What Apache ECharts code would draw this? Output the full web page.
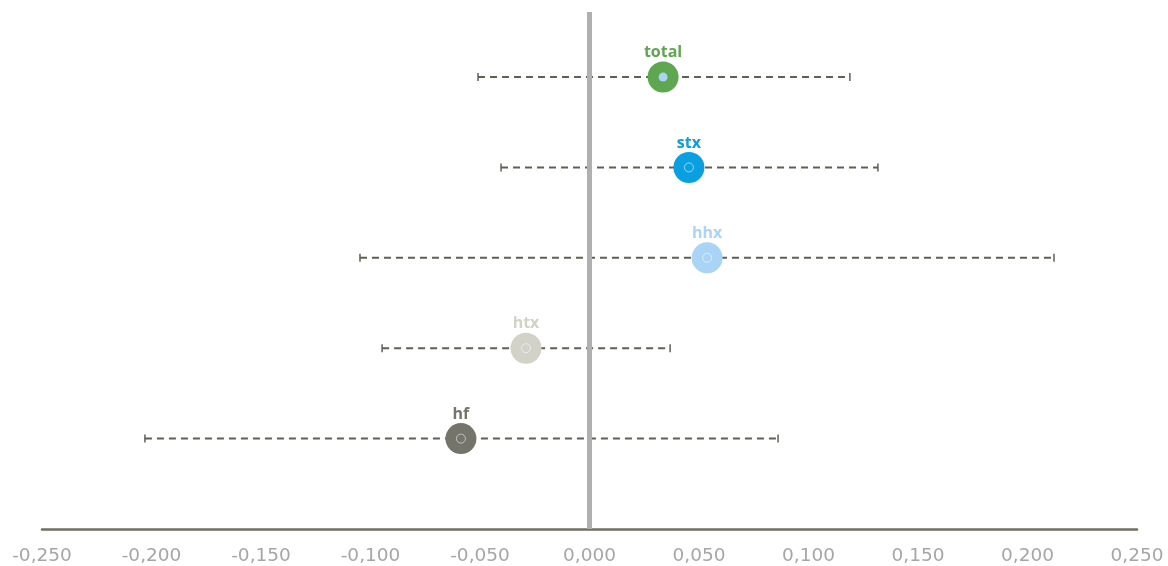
<!DOCTYPE html>
<html>
<head>
<meta charset="utf-8">
<script src="https://cdn.jsdelivr.net/npm/echarts@6/dist/echarts.min.js"></script>
<style>html,body{margin:0;padding:0;background:#fff}#c{width:1168px;height:566px}</style>
</head>
<body>
<div id="c"></div>
<script>
const categories = ['total', 'stx', 'hhx', 'htx', 'hf'];
const estimates = [0.0336, 0.0454, 0.0537, -0.0290, -0.0587];
const lower = [-0.0509, -0.0404, -0.1048, -0.0947, -0.2030];
const upper = [0.1189, 0.1317, 0.2121, 0.0368, 0.0861];
const colors = ['#5ea64f', '#0a9fe0', '#a9d4f5', '#d2d2c8', '#74746a'];
const innerFill = ['#a9d4f5', null, null, null, null];
const xTicks = { min: -0.25, max: 0.25, interval: 0.05 };

const n = categories.length;
const rowY = i => n - i;

const chart = echarts.init(document.getElementById('c'), null, { renderer: 'canvas' });

const fmt = v => {
  let s = Math.abs(v) < 1e-9 ? '0.000' : v.toFixed(3);
  return s.replace('.', ',');
};

const errData = categories.map((c, i) => [lower[i], upper[i], rowY(i)]);
const pointData = categories.map((c, i) => ({
  value: [estimates[i], rowY(i)],
  name: c,
  itemStyle: { color: colors[i], opacity: 1 },
  label: { color: colors[i] }
}));
const innerData = categories.map((c, i) => ({
  value: [estimates[i], rowY(i)],
  itemStyle: innerFill[i]
    ? { color: innerFill[i], borderWidth: 0, opacity: 1 }
    : { color: colors[i], borderColor: 'rgba(255,255,255,0.7)', borderWidth: 0.8, opacity: 1 }
}));

chart.setOption({
  animation: false,
  grid: { left: 42, right: 31, top: 12, bottom: 36, containLabel: false },
  xAxis: {
    type: 'value',
    min: xTicks.min, max: xTicks.max, interval: xTicks.interval,
    axisLine: { show: true, onZero: false, lineStyle: { color: '#6f6f63', width: 2.5 } },
    axisTick: { show: false },
    splitLine: { show: false },
    axisLabel: {
      formatter: fmt, color: '#a6a6a6', fontSize: 18.5, fontFamily: 'DejaVu Sans',
      margin: 18, showMinLabel: true, showMaxLabel: true
    }
  },
  yAxis: { type: 'value', min: 0, max: 5.72, show: false },
  series: [
    {
      type: 'custom',
      z: 1,
      encode: { x: [0, 1], y: 2 },
      data: errData,
      renderItem: function (params, api) {
        const p1 = api.coord([api.value(0), api.value(2)]);
        const p2 = api.coord([api.value(1), api.value(2)]);
        const col = '#605f55';
        const h = 4;
        return {
          type: 'group',
          children: [
            { type: 'line', shape: { x1: p1[0], y1: p1[1], x2: p2[0], y2: p2[1] },
              style: { stroke: col, lineWidth: 2, lineDash: [7, 5] } },
            { type: 'line', shape: { x1: p1[0], y1: p1[1] - h, x2: p1[0], y2: p1[1] + h },
              style: { stroke: col, lineWidth: 1.5 } },
            { type: 'line', shape: { x1: p2[0], y1: p2[1] - h, x2: p2[0], y2: p2[1] + h },
              style: { stroke: col, lineWidth: 1.5 } }
          ]
        };
      },
      markLine: {
        silent: true,
        symbol: 'none',
        label: { show: false },
        lineStyle: { color: '#b0b0b0', width: 5, type: 'solid', opacity: 1 },
        data: [{ xAxis: 0 }]
      }
    },
    {
      type: 'scatter',
      z: 3,
      symbol: 'circle',
      symbolSize: 31,
      data: pointData,
      itemStyle: { opacity: 1 },
      label: {
        show: true, position: 'top', distance: 1,
        formatter: p => p.name,
        fontFamily: 'Open Sans', fontWeight: 'bold', fontSize: 16
      }
    },
    {
      type: 'scatter',
      z: 4,
      symbol: 'circle',
      symbolSize: 9,
      silent: true,
      itemStyle: { opacity: 1 },
      data: innerData
    }
  ]
});
</script>
</body>
</html>
